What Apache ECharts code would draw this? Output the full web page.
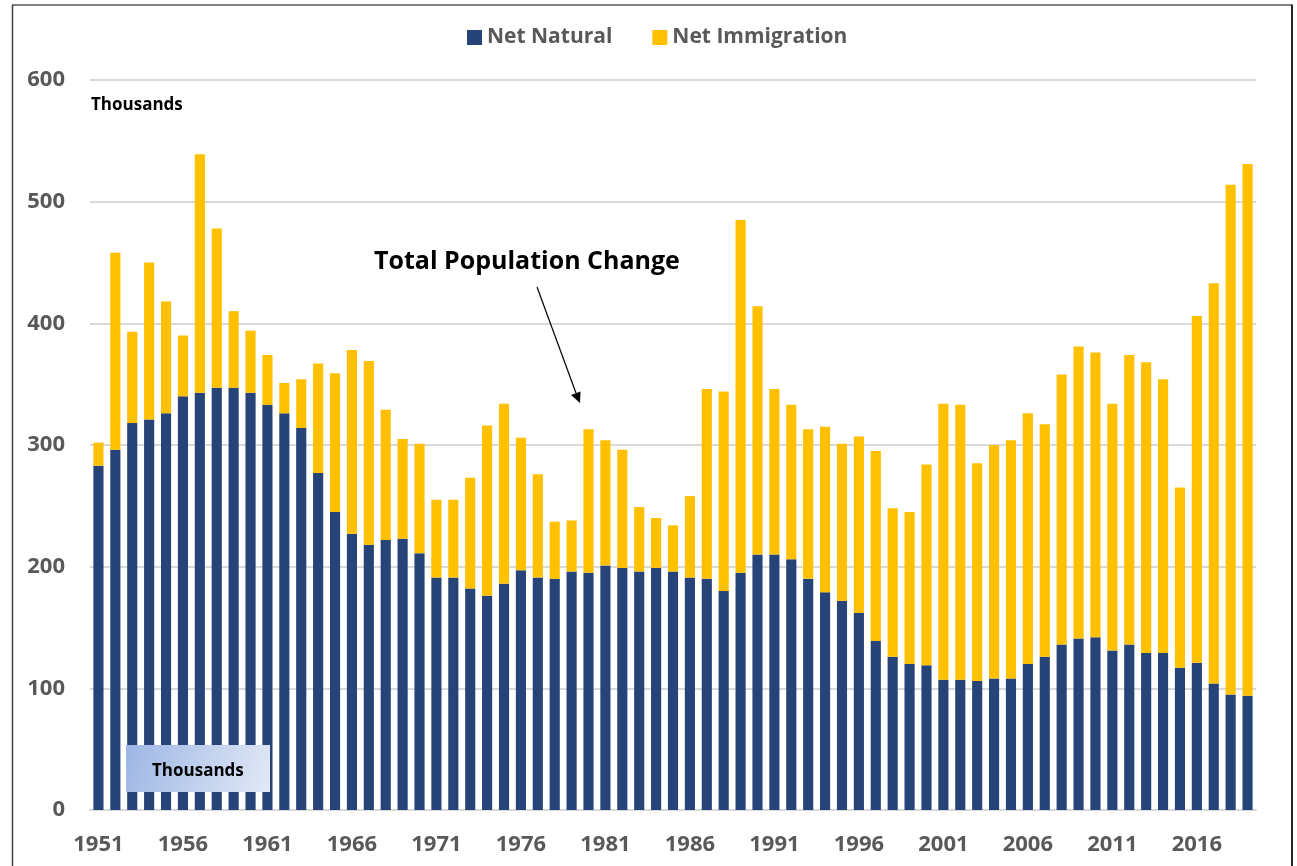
<!DOCTYPE html>
<html>
<head>
<meta charset="utf-8">
<script src="https://cdn.jsdelivr.net/npm/echarts@6/dist/echarts.min.js"></script>
<style>
html,body{margin:0;padding:0;background:#fff;}
#chart{width:1297px;height:866px;}
</style>
</head>
<body>
<div id="chart"></div>
<script>
const years = [];
for (let y = 1951; y <= 2019; y++) years.push(String(y));

const netNatural = [283,296,318,321,326,340,343,347,347,343,333,326,314,277,245,227,218,222,223,
  211,191,191,182,176,186,197,191,190,196,195,201,199,196,199,196,191,190,180,
  195,210,210,206,190,179,172,162,139,126,120,119,107,107,106,108,108,
  120,126,136,141,142,131,136,129,129,117,121,104,95,94];

const netImmigration = [19,162,75,129,92,50,196,131,63,51,41,25,40,90,114,151,151,107,82,
  90,64,64,91,140,148,109,85,47,42,118,103,97,53,41,38,67,156,164,
  290,204,136,127,123,136,129,145,156,122,125,165,227,226,179,192,196,
  206,191,222,240,234,203,238,239,225,148,285,329,419,437];

const yTicks = [0,100,200,300,400,500,600];

const FONT = '"Open Sans", "Noto Sans", sans-serif';
const chart = echarts.init(document.getElementById('chart'), null, {renderer: 'canvas'});

chart.setOption({
  backgroundColor: '#ffffff',
  animation: false,
  textStyle: {fontFamily: FONT},
  legend: {
    top: 22,
    left: 462,
    itemWidth: 15,
    itemHeight: 15,
    itemGap: 40,
    icon: 'rect',
    textStyle: {color: '#595959', fontSize: 21, fontWeight: 'bold', fontFamily: FONT},
    data: ['Net Natural', 'Net Immigration']
  },
  grid: {left: 90, right: 41, top: 80, bottom: 56, containLabel: false},
  xAxis: {
    type: 'category',
    data: years,
    axisTick: {show: false},
    axisLine: {lineStyle: {color: '#d9d9d9', width: 2}},
    axisLabel: {
      interval: 4,
      margin: 24,
      color: '#595959',
      fontSize: 22,
      fontWeight: 'bold',
      fontFamily: FONT
    }
  },
  yAxis: {
    type: 'value',
    min: yTicks[0],
    max: yTicks[yTicks.length - 1],
    interval: 100,
    axisLine: {show: false},
    axisTick: {show: false},
    splitLine: {lineStyle: {color: '#d9d9d9', width: 2}},
    axisLabel: {
      margin: 25,
      color: '#595959',
      fontSize: 22,
      fontWeight: 'bold',
      fontFamily: FONT
    }
  },
  series: [
    {
      name: 'Net Natural',
      type: 'bar',
      stack: 'total',
      barCategoryGap: '40%',
      itemStyle: {color: '#264478'},
      data: netNatural
    },
    {
      name: 'Net Immigration',
      type: 'bar',
      stack: 'total',
      barCategoryGap: '40%',
      itemStyle: {color: '#FFC000'},
      data: netImmigration
    }
  ],
  graphic: [
    {type: 'line', shape: {x1: 12, y1: 5, x2: 1293, y2: 5}, style: {stroke: '#7f7f7f', lineWidth: 2}, z: 100},
    {type: 'line', shape: {x1: 12.5, y1: 5, x2: 12.5, y2: 866}, style: {stroke: '#404040', lineWidth: 1.5}, z: 100},
    {type: 'line', shape: {x1: 1292, y1: 5, x2: 1292, y2: 866}, style: {stroke: '#262626', lineWidth: 2}, z: 100},
    {type: 'text', left: 91, top: 97, style: {text: 'Thousands', fill: '#000', font: 'bold 17px ' + FONT}, z: 100},
    {type: 'text', left: 374, top: 249, style: {text: 'Total Population Change', fill: '#000', font: 'bold 25px ' + FONT}, z: 100},
    {type: 'line', shape: {x1: 537, y1: 287, x2: 576, y2: 393}, style: {stroke: '#000', lineWidth: 1.2}, z: 100},
    {type: 'polygon', shape: {points: [[580, 403], [571, 395], [580.5, 391.5]]}, style: {fill: '#000'}, z: 100},
    {type: 'rect', z: 100, shape: {x: 126, y: 745, width: 144, height: 47},
      style: {fill: new echarts.graphic.LinearGradient(0, 0, 1, 1, [
        {offset: 0, color: '#9db6e4'}, {offset: 1, color: '#e2e9f6'}])}},
    {type: 'text', z: 101, left: 152, top: 763, style: {text: 'Thousands', fill: '#000', font: 'bold 17px ' + FONT}}
  ]
});
</script>
</body>
</html>
